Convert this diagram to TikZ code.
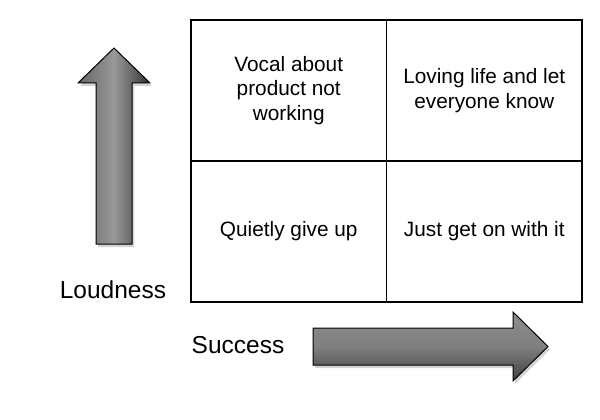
\documentclass[tikz,border=0pt]{standalone}
\usepackage{fontspec}
\setmainfont{Liberation Sans}
\usetikzlibrary{positioning, shadows}

\begin{document}
\begin{tikzpicture}[
    x=1pt, y=-1pt, node distance=0pt,
    cell/.style={draw, line width=1.2pt, inner sep=0pt, outer sep=0pt, minimum width=195.5pt, minimum height=141pt, align=center, font=\fontsize{20.8}{24.5}\selectfont},
    axis/.style={font=\fontsize{24.5}{28}\selectfont},
    bigarrow/.style={draw=black, line width=1pt, line join=miter, drop shadow={opacity=0.35, shadow xshift=2pt, shadow yshift=-3pt}},
]
\useasboundingbox (0,0) rectangle (600,420);
% quadrants
\node[cell, anchor=north west] (vocal) at (191,20) {Vocal about\\product not\\working};
\node[cell, right=of vocal] (loving) {Loving life and let\\everyone know};
\node[cell, below=of vocal] (quiet) {Quietly give up};
\node[cell, below=of loving] (just) {Just get on with it};
% axis arrows
\path[bigarrow, left color=black!60, right color=black!80, middle color=black!40]
    (96,244) -- (96,83) -- (78,83) -- (114,48) -- (150,83) -- (132,83) -- (132,244) -- cycle;
\path[bigarrow, top color=black!45, bottom color=black!75, middle color=black!50]
    (313,328) -- (513,328) -- (513,312) -- (548,346.5) -- (513,381) -- (513,365) -- (313,365) -- cycle;
\node[axis] (loud) at (113,290) {Loudness};
\node[axis] (succ) at (238,345) {Success};
\end{tikzpicture}
\end{document}
